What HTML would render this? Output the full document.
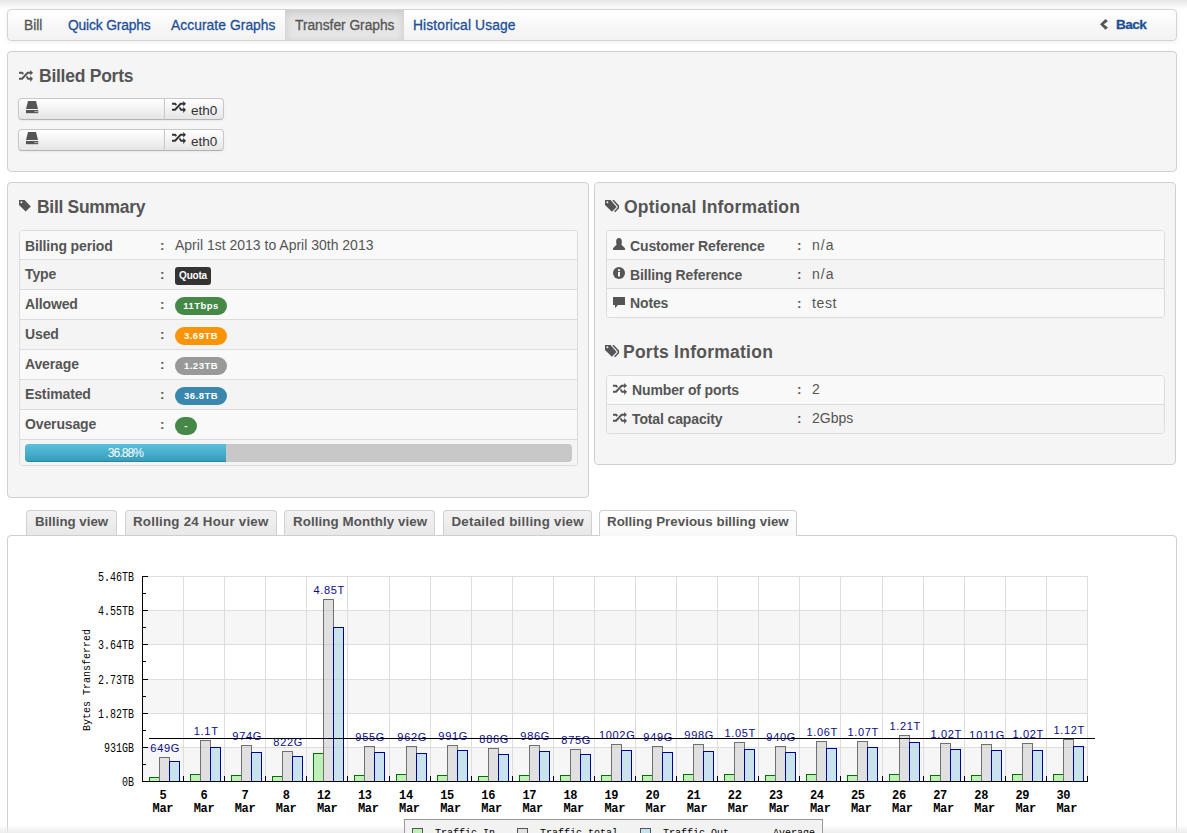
<!DOCTYPE html>
<html><head><meta charset="utf-8">
<style>
*{box-sizing:border-box;margin:0;padding:0}
html,body{width:1187px;height:833px;overflow:hidden;background:#fff}
body{position:relative;font-family:"Liberation Sans",sans-serif;color:#555}
.abs{position:absolute}
.topshade{left:0;top:0;width:1187px;height:9px;background:linear-gradient(#e6e6e6,#fff)}
.botshade{left:0;top:825px;width:1187px;height:8px;background:linear-gradient(rgba(238,238,238,0),#ececec)}
.navbar{left:7px;top:9px;width:1170px;height:32px;border:1px solid #d4d4d4;border-radius:4px;background:linear-gradient(#ffffff,#f2f2f2);box-shadow:0 1px 4px rgba(0,0,0,.065)}
.nav{position:absolute;top:0;height:30px;line-height:32px;font-size:13.8px;color:#1d4f96;white-space:nowrap;-webkit-text-stroke:0.3px}
.nav.active{background:#e5e5e5;box-shadow:inset 0 3px 8px rgba(0,0,0,.125);color:#555}
.well{background:#f5f5f5;border:1px solid #d0d0d0;border-radius:4px}
h3{position:absolute;font-size:17.5px;font-weight:bold;color:#555;white-space:nowrap;line-height:20px}
.icon{position:absolute}
.btn{position:absolute;height:22px;border:1px solid #c8c8c8;border-bottom-color:#b3b3b3;background:linear-gradient(#ffffff,#e6e6e6);box-shadow:inset 0 1px 0 rgba(255,255,255,.2),0 1px 2px rgba(0,0,0,.05)}
.tbl{position:absolute;border:1px solid #dcdcdc;border-radius:4px;overflow:hidden}
.row{position:absolute;left:0;width:100%;border-top:1px solid #dcdcdc}
.row.first{border-top:none}
.odd{background:#f9f9f9}
.even{background:#f4f4f4}
.lbl{position:absolute;margin-top:1px;font-weight:bold;font-size:14px;letter-spacing:-0.13px;color:#555;white-space:nowrap}
.colon{position:absolute;font-size:13.5px;font-weight:bold;color:#555;margin-top:1px}
.val{position:absolute;font-size:14px;color:#555;white-space:nowrap}
.badge{position:absolute;height:18px;border-radius:9px;color:#fff;font-weight:bold;font-size:9.5px;letter-spacing:0.5px;line-height:17px;text-align:center;white-space:nowrap}
.tab{position:absolute;top:510px;height:25px;border:1px solid #d0d0d0;border-bottom:none;border-radius:4px 4px 0 0;background:linear-gradient(#f2f2f2,#e8e8e8);font-weight:bold;font-size:13.3px;color:#555;line-height:22px;white-space:nowrap}
.tab.active{background:linear-gradient(#ffffff,#f8f8f8);height:26px;border-color:#cfcfcf}
.content{left:7px;top:535px;width:1170px;height:320px;border:1px solid #cfcfcf;border-radius:4px 4px 0 0;background:#fff}
</style></head><body>
<div class="abs topshade"></div>

<!-- navbar -->
<div class="abs navbar">
  <span class="nav" style="left:16px;color:#555">Bill</span>
  <span class="nav" style="left:60px;letter-spacing:-0.15px">Quick Graphs</span>
  <span class="nav" style="left:163px;letter-spacing:0.07px">Accurate Graphs</span>
  <span class="nav active" style="left:277px;width:119px;padding-left:10px;letter-spacing:-0.03px">Transfer Graphs</span>
  <span class="nav" style="left:405px;letter-spacing:0.14px">Historical Usage</span>
  <svg class="icon" style="left:1091px;top:8px" width="10" height="13" viewBox="0 0 10 13"><path d="M1 6.3L6.5 1L9 3.3L4.8 6.3L9 9.5L6.5 11.8Z" fill="#555"/></svg>
  <span class="nav" style="left:1108px;font-weight:bold;font-size:13.6px;letter-spacing:-0.6px;line-height:29px">Back</span>
</div>

<!-- Billed ports -->
<div class="abs well" style="left:7px;top:51px;width:1170px;height:121px"></div>
<svg class="icon" style="left:19px;top:70px" width="14" height="12" viewBox="0 0 14 12"><path d="M0 1.8H3.5L5.0 3.4L3.7 4.7L2.7 3.8H0Z M0 7.8H2.6L8.2 1.8H11.2V0L14 2.8L11.2 5.6V3.8H9.1L3.5 9.8H0Z M6.9 7.1L8.2 5.8L9.3 7.8H11.2V6L14 8.8L11.2 11.9V9.8H8.6Z" fill="#555"/></svg>
<h3 style="left:39px;top:66px;letter-spacing:-0.25px">Billed Ports</h3>

<div class="btn" style="left:18px;top:98px;width:147px;border-radius:4px 0 0 4px"></div>
<div class="btn" style="left:164px;top:98px;width:60px;border-radius:0 4px 4px 0"></div>
<div class="btn" style="left:18px;top:129px;width:147px;border-radius:4px 0 0 4px"></div>
<div class="btn" style="left:164px;top:129px;width:60px;border-radius:0 4px 4px 0"></div>
<!--HDD-->
<svg class="icon" style="left:26px;top:101px" width="13" height="13" viewBox="0 0 13 13"><path d="M2 0h8l2 8H0z" fill="#555"/><rect x="0" y="9" width="12.2" height="3.2" fill="#555"/><circle cx="9.2" cy="10.6" r="0.7" fill="#eee"/><circle cx="11" cy="10.6" r="0.7" fill="#eee"/></svg>
<svg class="icon" style="left:26px;top:132px" width="13" height="13" viewBox="0 0 13 13"><path d="M2 0h8l2 8H0z" fill="#555"/><rect x="0" y="9" width="12.2" height="3.2" fill="#555"/><circle cx="9.2" cy="10.6" r="0.7" fill="#eee"/><circle cx="11" cy="10.6" r="0.7" fill="#eee"/></svg>
<svg class="icon" style="left:172px;top:101px" width="14" height="12" viewBox="0 0 14 12"><path d="M0 1.8H3.5L5.0 3.4L3.7 4.7L2.7 3.8H0Z M0 7.8H2.6L8.2 1.8H11.2V0L14 2.8L11.2 5.6V3.8H9.1L3.5 9.8H0Z M6.9 7.1L8.2 5.8L9.3 7.8H11.2V6L14 8.8L11.2 11.9V9.8H8.6Z" fill="#333"/></svg>
<svg class="icon" style="left:172px;top:132px" width="14" height="12" viewBox="0 0 14 12"><path d="M0 1.8H3.5L5.0 3.4L3.7 4.7L2.7 3.8H0Z M0 7.8H2.6L8.2 1.8H11.2V0L14 2.8L11.2 5.6V3.8H9.1L3.5 9.8H0Z M6.9 7.1L8.2 5.8L9.3 7.8H11.2V6L14 8.8L11.2 11.9V9.8H8.6Z" fill="#333"/></svg>
<span class="abs" style="left:191px;top:103px;font-size:13.5px;line-height:16px;color:#333">eth0</span>
<span class="abs" style="left:191px;top:134px;font-size:13.5px;line-height:16px;color:#333">eth0</span>

<!-- Bill Summary -->
<div class="abs well" style="left:7px;top:182px;width:582px;height:316px"></div>
<svg class="icon" style="left:19px;top:200px" width="13" height="13" viewBox="0 0 13 13"><path d="M0 0.1H5.6L11.8 6.4L6.7 11.6L0 5.1Z" fill="#555"/><circle cx="2.4" cy="2.3" r="1" fill="#f5f5f5"/></svg>
<h3 style="left:37px;top:197px;letter-spacing:-0.3px">Bill Summary</h3>

<div class="tbl" style="left:19px;top:230px;width:559px;height:236px">
  <div class="row first odd" style="top:0;height:28px"></div>
  <div class="row even" style="top:28px;height:30px"></div>
  <div class="row odd" style="top:58px;height:30px"></div>
  <div class="row even" style="top:88px;height:30px"></div>
  <div class="row odd" style="top:118px;height:30px"></div>
  <div class="row even" style="top:148px;height:30px"></div>
  <div class="row odd" style="top:178px;height:30px"></div>
  <div class="row even" style="top:208px;height:26px"></div>
</div>
<span class="lbl" style="left:25px;top:237px">Billing period</span>
<span class="lbl" style="left:25px;top:265px">Type</span>
<span class="lbl" style="left:25px;top:295px">Allowed</span>
<span class="lbl" style="left:25px;top:325px">Used</span>
<span class="lbl" style="left:25px;top:355px">Average</span>
<span class="lbl" style="left:25px;top:385px">Estimated</span>
<span class="lbl" style="left:25px;top:415px">Overusage</span>
<span class="colon" style="left:160px;top:237px">:</span>
<span class="colon" style="left:160px;top:266px">:</span>
<span class="colon" style="left:160px;top:296px">:</span>
<span class="colon" style="left:160px;top:326px">:</span>
<span class="colon" style="left:160px;top:356px">:</span>
<span class="colon" style="left:160px;top:386px">:</span>
<span class="colon" style="left:160px;top:416px">:</span>
<span class="val" style="left:175px;top:237px">April 1st 2013 to April 30th 2013</span>
<span class="badge" style="left:175px;top:267px;width:36px;border-radius:3px;background:#333;font-size:10px;letter-spacing:-0.2px;line-height:18px">Quota</span>
<span class="badge" style="left:175px;top:297px;width:52px;background:#468847">11Tbps</span>
<span class="badge" style="left:175px;top:327px;width:52px;background:#f89406">3.69TB</span>
<span class="badge" style="left:175px;top:357px;width:52px;background:#999">1.23TB</span>
<span class="badge" style="left:175px;top:387px;width:52px;background:#3a87ad">36.8TB</span>
<span class="badge" style="left:175px;top:417px;width:22px;background:#468847">-</span>
<div class="abs" style="left:25px;top:444px;width:547px;height:18px;border-radius:4px;background:#c8c8c8;overflow:hidden">
  <div class="abs" style="left:0;top:0;width:201px;height:18px;background:linear-gradient(#5bc0de,#339bb9);box-shadow:inset 0 -1px 0 rgba(0,0,0,.15);color:#fff;font-size:12px;letter-spacing:-0.9px;line-height:19px;text-align:center">36.88%</div>
</div>

<!-- Optional information -->
<div class="abs well" style="left:594px;top:182px;width:582px;height:283px"></div>
<svg class="icon" style="left:605px;top:200px" width="15" height="13" viewBox="0 0 15 13"><path d="M0 0.1H5.6L11.6 6.9L6.9 11.8L0 5.1Z" fill="#555"/><circle cx="2.4" cy="2.3" r="1" fill="#f5f5f5"/><path d="M8 0.1L13.3 5.9V8L9.6 11.8" fill="none" stroke="#555" stroke-width="1.5"/></svg>
<h3 style="left:624px;top:197px;letter-spacing:0.2px">Optional Information</h3>
<div class="tbl" style="left:606px;top:230px;width:559px;height:88px">
  <div class="row first odd" style="top:0;height:28px"></div>
  <div class="row even" style="top:28px;height:29px"></div>
  <div class="row odd" style="top:57px;height:29px"></div>
</div>
<svg class="icon" style="left:613px;top:238px" width="12" height="12" viewBox="0 0 12 12"><path d="M3.2 3C3.2 1.2 4.4 0 6 0S8.8 1.2 8.8 3V5.2L8.3 6.6L12 10.3V12H0V10.3L3.7 6.6L3.2 5.2Z" fill="#555"/></svg>
<svg class="icon" style="left:613px;top:267px" width="12" height="12" viewBox="0 0 12 12"><circle cx="6" cy="6" r="6" fill="#555"/><rect x="5" y="5" width="2" height="4.5" fill="#f5f5f5"/><circle cx="6" cy="3.2" r="1.1" fill="#f5f5f5"/></svg>
<svg class="icon" style="left:613px;top:297px" width="12" height="12" viewBox="0 0 12 12"><path d="M0 0h12v8H5L2 11V8H0z" fill="#555"/></svg>
<span class="lbl" style="left:630px;top:237px">Customer Reference</span>
<span class="lbl" style="left:630px;top:266px">Billing Reference</span>
<span class="lbl" style="left:630px;top:294px">Notes</span>
<span class="colon" style="left:797px;top:237px">:</span>
<span class="colon" style="left:797px;top:266px">:</span>
<span class="colon" style="left:797px;top:295px">:</span>
<span class="val" style="left:812px;top:237px;letter-spacing:1px">n/a</span>
<span class="val" style="left:812px;top:266px;letter-spacing:1px">n/a</span>
<span class="val" style="left:812px;top:295px;letter-spacing:0.6px">test</span>

<svg class="icon" style="left:605px;top:345px" width="15" height="13" viewBox="0 0 15 13"><path d="M0 0.1H5.6L11.6 6.9L6.9 11.8L0 5.1Z" fill="#555"/><circle cx="2.4" cy="2.3" r="1" fill="#f5f5f5"/><path d="M8 0.1L13.3 5.9V8L9.6 11.8" fill="none" stroke="#555" stroke-width="1.5"/></svg>
<h3 style="left:623px;top:342px;letter-spacing:0.25px">Ports Information</h3>
<div class="tbl" style="left:606px;top:375px;width:559px;height:59px">
  <div class="row first odd" style="top:0;height:28px"></div>
  <div class="row even" style="top:28px;height:29px"></div>
</div>
<svg class="icon" style="left:613px;top:383px" width="14" height="12" viewBox="0 0 14 12"><path d="M0 1.8H3.5L5.0 3.4L3.7 4.7L2.7 3.8H0Z M0 7.8H2.6L8.2 1.8H11.2V0L14 2.8L11.2 5.6V3.8H9.1L3.5 9.8H0Z M6.9 7.1L8.2 5.8L9.3 7.8H11.2V6L14 8.8L11.2 11.9V9.8H8.6Z" fill="#555"/></svg>
<svg class="icon" style="left:613px;top:412px" width="14" height="12" viewBox="0 0 14 12"><path d="M0 1.8H3.5L5.0 3.4L3.7 4.7L2.7 3.8H0Z M0 7.8H2.6L8.2 1.8H11.2V0L14 2.8L11.2 5.6V3.8H9.1L3.5 9.8H0Z M6.9 7.1L8.2 5.8L9.3 7.8H11.2V6L14 8.8L11.2 11.9V9.8H8.6Z" fill="#555"/></svg>
<span class="lbl" style="left:632px;top:381px">Number of ports</span>
<span class="lbl" style="left:632px;top:410px">Total capacity</span>
<span class="colon" style="left:797px;top:381px">:</span>
<span class="colon" style="left:797px;top:410px">:</span>
<span class="val" style="left:812px;top:381px">2</span>
<span class="val" style="left:812px;top:410px">2Gbps</span>

<!-- tabs -->
<div class="abs content"></div>
<div class="tab" style="left:26px;width:91px;padding-left:8px">Billing view</div>
<div class="tab" style="left:125px;width:152px;padding-left:7px;letter-spacing:0.24px">Rolling 24 Hour view</div>
<div class="tab" style="left:284px;width:151px;padding-left:8px;letter-spacing:0.1px">Rolling Monthly view</div>
<div class="tab" style="left:443px;width:149px;padding-left:7.5px;letter-spacing:0.25px">Detailed billing view</div>
<div class="tab active" style="left:599px;width:198px;padding-left:7px;letter-spacing:0.05px">Rolling Previous billing view</div>

<svg width="1187" height="833" style="position:absolute;left:0;top:0" shape-rendering="crispEdges">
<rect x="142" y="576" width="945" height="34" fill="#ffffff"/>
<rect x="142" y="610" width="945" height="34" fill="#f6f6f6"/>
<rect x="142" y="644" width="945" height="35" fill="#ffffff"/>
<rect x="142" y="679" width="945" height="34" fill="#f6f6f6"/>
<rect x="142" y="713" width="945" height="34" fill="#ffffff"/>
<rect x="142" y="747" width="945" height="34" fill="#f6f6f6"/>
<rect x="142" y="576" width="946" height="1" fill="#dddddd"/>
<rect x="142" y="610" width="946" height="1" fill="#dddddd"/>
<rect x="142" y="644" width="946" height="1" fill="#dddddd"/>
<rect x="142" y="679" width="946" height="1" fill="#dddddd"/>
<rect x="142" y="713" width="946" height="1" fill="#dddddd"/>
<rect x="142" y="747" width="946" height="1" fill="#dddddd"/>
<rect x="183" y="576" width="1" height="205" fill="#dddddd"/>
<rect x="224" y="576" width="1" height="205" fill="#dddddd"/>
<rect x="265" y="576" width="1" height="205" fill="#dddddd"/>
<rect x="306" y="576" width="1" height="205" fill="#dddddd"/>
<rect x="347" y="576" width="1" height="205" fill="#dddddd"/>
<rect x="389" y="576" width="1" height="205" fill="#dddddd"/>
<rect x="430" y="576" width="1" height="205" fill="#dddddd"/>
<rect x="471" y="576" width="1" height="205" fill="#dddddd"/>
<rect x="512" y="576" width="1" height="205" fill="#dddddd"/>
<rect x="553" y="576" width="1" height="205" fill="#dddddd"/>
<rect x="594" y="576" width="1" height="205" fill="#dddddd"/>
<rect x="635" y="576" width="1" height="205" fill="#dddddd"/>
<rect x="676" y="576" width="1" height="205" fill="#dddddd"/>
<rect x="717" y="576" width="1" height="205" fill="#dddddd"/>
<rect x="758" y="576" width="1" height="205" fill="#dddddd"/>
<rect x="799" y="576" width="1" height="205" fill="#dddddd"/>
<rect x="840" y="576" width="1" height="205" fill="#dddddd"/>
<rect x="882" y="576" width="1" height="205" fill="#dddddd"/>
<rect x="923" y="576" width="1" height="205" fill="#dddddd"/>
<rect x="964" y="576" width="1" height="205" fill="#dddddd"/>
<rect x="1005" y="576" width="1" height="205" fill="#dddddd"/>
<rect x="1046" y="576" width="1" height="205" fill="#dddddd"/>
<rect x="1087" y="576" width="1" height="205" fill="#dddddd"/>
<rect x="149" y="777" width="11" height="4" fill="#007000"/>
<rect x="150" y="778" width="9" height="3" fill="#bff0b8"/>
<rect x="159" y="757" width="11" height="24" fill="#707070"/>
<rect x="160" y="758" width="9" height="23" fill="#e0e0e0"/>
<rect x="169" y="761" width="11" height="20" fill="#0000a0"/>
<rect x="170" y="762" width="9" height="19" fill="#c9e3ed"/>
<rect x="190" y="774" width="11" height="7" fill="#007000"/>
<rect x="191" y="775" width="9" height="6" fill="#bff0b8"/>
<rect x="200" y="740" width="11" height="41" fill="#707070"/>
<rect x="201" y="741" width="9" height="40" fill="#e0e0e0"/>
<rect x="210" y="747" width="11" height="34" fill="#0000a0"/>
<rect x="211" y="748" width="9" height="33" fill="#c9e3ed"/>
<rect x="231" y="775" width="11" height="6" fill="#007000"/>
<rect x="232" y="776" width="9" height="5" fill="#bff0b8"/>
<rect x="241" y="745" width="11" height="36" fill="#707070"/>
<rect x="242" y="746" width="9" height="35" fill="#e0e0e0"/>
<rect x="251" y="752" width="11" height="29" fill="#0000a0"/>
<rect x="252" y="753" width="9" height="28" fill="#c9e3ed"/>
<rect x="272" y="776" width="11" height="5" fill="#007000"/>
<rect x="273" y="777" width="9" height="4" fill="#bff0b8"/>
<rect x="282" y="751" width="11" height="30" fill="#707070"/>
<rect x="283" y="752" width="9" height="29" fill="#e0e0e0"/>
<rect x="292" y="756" width="11" height="25" fill="#0000a0"/>
<rect x="293" y="757" width="9" height="24" fill="#c9e3ed"/>
<rect x="313" y="753" width="11" height="28" fill="#007000"/>
<rect x="314" y="754" width="9" height="27" fill="#bff0b8"/>
<rect x="323" y="599" width="11" height="182" fill="#707070"/>
<rect x="324" y="600" width="9" height="181" fill="#e0e0e0"/>
<rect x="333" y="627" width="11" height="154" fill="#0000a0"/>
<rect x="334" y="628" width="9" height="153" fill="#c9e3ed"/>
<rect x="354" y="775" width="11" height="6" fill="#007000"/>
<rect x="355" y="776" width="9" height="5" fill="#bff0b8"/>
<rect x="364" y="746" width="11" height="35" fill="#707070"/>
<rect x="365" y="747" width="9" height="34" fill="#e0e0e0"/>
<rect x="374" y="752" width="11" height="29" fill="#0000a0"/>
<rect x="375" y="753" width="9" height="28" fill="#c9e3ed"/>
<rect x="396" y="774" width="11" height="7" fill="#007000"/>
<rect x="397" y="775" width="9" height="6" fill="#bff0b8"/>
<rect x="406" y="746" width="11" height="35" fill="#707070"/>
<rect x="407" y="747" width="9" height="34" fill="#e0e0e0"/>
<rect x="416" y="753" width="11" height="28" fill="#0000a0"/>
<rect x="417" y="754" width="9" height="27" fill="#c9e3ed"/>
<rect x="437" y="775" width="11" height="6" fill="#007000"/>
<rect x="438" y="776" width="9" height="5" fill="#bff0b8"/>
<rect x="447" y="745" width="11" height="36" fill="#707070"/>
<rect x="448" y="746" width="9" height="35" fill="#e0e0e0"/>
<rect x="457" y="750" width="11" height="31" fill="#0000a0"/>
<rect x="458" y="751" width="9" height="30" fill="#c9e3ed"/>
<rect x="478" y="776" width="11" height="5" fill="#007000"/>
<rect x="479" y="777" width="9" height="4" fill="#bff0b8"/>
<rect x="488" y="748" width="11" height="33" fill="#707070"/>
<rect x="489" y="749" width="9" height="32" fill="#e0e0e0"/>
<rect x="498" y="754" width="11" height="27" fill="#0000a0"/>
<rect x="499" y="755" width="9" height="26" fill="#c9e3ed"/>
<rect x="519" y="775" width="11" height="6" fill="#007000"/>
<rect x="520" y="776" width="9" height="5" fill="#bff0b8"/>
<rect x="529" y="745" width="11" height="36" fill="#707070"/>
<rect x="530" y="746" width="9" height="35" fill="#e0e0e0"/>
<rect x="539" y="751" width="11" height="30" fill="#0000a0"/>
<rect x="540" y="752" width="9" height="29" fill="#c9e3ed"/>
<rect x="560" y="775" width="11" height="6" fill="#007000"/>
<rect x="561" y="776" width="9" height="5" fill="#bff0b8"/>
<rect x="570" y="749" width="11" height="32" fill="#707070"/>
<rect x="571" y="750" width="9" height="31" fill="#e0e0e0"/>
<rect x="580" y="754" width="11" height="27" fill="#0000a0"/>
<rect x="581" y="755" width="9" height="26" fill="#c9e3ed"/>
<rect x="601" y="775" width="11" height="6" fill="#007000"/>
<rect x="602" y="776" width="9" height="5" fill="#bff0b8"/>
<rect x="611" y="744" width="11" height="37" fill="#707070"/>
<rect x="612" y="745" width="9" height="36" fill="#e0e0e0"/>
<rect x="621" y="750" width="11" height="31" fill="#0000a0"/>
<rect x="622" y="751" width="9" height="30" fill="#c9e3ed"/>
<rect x="642" y="775" width="11" height="6" fill="#007000"/>
<rect x="643" y="776" width="9" height="5" fill="#bff0b8"/>
<rect x="652" y="746" width="11" height="35" fill="#707070"/>
<rect x="653" y="747" width="9" height="34" fill="#e0e0e0"/>
<rect x="662" y="752" width="11" height="29" fill="#0000a0"/>
<rect x="663" y="753" width="9" height="28" fill="#c9e3ed"/>
<rect x="683" y="774" width="11" height="7" fill="#007000"/>
<rect x="684" y="775" width="9" height="6" fill="#bff0b8"/>
<rect x="693" y="744" width="11" height="37" fill="#707070"/>
<rect x="694" y="745" width="9" height="36" fill="#e0e0e0"/>
<rect x="703" y="751" width="11" height="30" fill="#0000a0"/>
<rect x="704" y="752" width="9" height="29" fill="#c9e3ed"/>
<rect x="724" y="774" width="11" height="7" fill="#007000"/>
<rect x="725" y="775" width="9" height="6" fill="#bff0b8"/>
<rect x="734" y="742" width="11" height="39" fill="#707070"/>
<rect x="735" y="743" width="9" height="38" fill="#e0e0e0"/>
<rect x="744" y="749" width="11" height="32" fill="#0000a0"/>
<rect x="745" y="750" width="9" height="31" fill="#c9e3ed"/>
<rect x="765" y="775" width="11" height="6" fill="#007000"/>
<rect x="766" y="776" width="9" height="5" fill="#bff0b8"/>
<rect x="775" y="746" width="11" height="35" fill="#707070"/>
<rect x="776" y="747" width="9" height="34" fill="#e0e0e0"/>
<rect x="785" y="752" width="11" height="29" fill="#0000a0"/>
<rect x="786" y="753" width="9" height="28" fill="#c9e3ed"/>
<rect x="806" y="774" width="11" height="7" fill="#007000"/>
<rect x="807" y="775" width="9" height="6" fill="#bff0b8"/>
<rect x="816" y="741" width="11" height="40" fill="#707070"/>
<rect x="817" y="742" width="9" height="39" fill="#e0e0e0"/>
<rect x="826" y="748" width="11" height="33" fill="#0000a0"/>
<rect x="827" y="749" width="9" height="32" fill="#c9e3ed"/>
<rect x="847" y="775" width="11" height="6" fill="#007000"/>
<rect x="848" y="776" width="9" height="5" fill="#bff0b8"/>
<rect x="857" y="741" width="11" height="40" fill="#707070"/>
<rect x="858" y="742" width="9" height="39" fill="#e0e0e0"/>
<rect x="867" y="747" width="11" height="34" fill="#0000a0"/>
<rect x="868" y="748" width="9" height="33" fill="#c9e3ed"/>
<rect x="889" y="774" width="11" height="7" fill="#007000"/>
<rect x="890" y="775" width="9" height="6" fill="#bff0b8"/>
<rect x="899" y="735" width="11" height="46" fill="#707070"/>
<rect x="900" y="736" width="9" height="45" fill="#e0e0e0"/>
<rect x="909" y="742" width="11" height="39" fill="#0000a0"/>
<rect x="910" y="743" width="9" height="38" fill="#c9e3ed"/>
<rect x="930" y="775" width="11" height="6" fill="#007000"/>
<rect x="931" y="776" width="9" height="5" fill="#bff0b8"/>
<rect x="940" y="743" width="11" height="38" fill="#707070"/>
<rect x="941" y="744" width="9" height="37" fill="#e0e0e0"/>
<rect x="950" y="749" width="11" height="32" fill="#0000a0"/>
<rect x="951" y="750" width="9" height="31" fill="#c9e3ed"/>
<rect x="971" y="775" width="11" height="6" fill="#007000"/>
<rect x="972" y="776" width="9" height="5" fill="#bff0b8"/>
<rect x="981" y="744" width="11" height="37" fill="#707070"/>
<rect x="982" y="745" width="9" height="36" fill="#e0e0e0"/>
<rect x="991" y="750" width="11" height="31" fill="#0000a0"/>
<rect x="992" y="751" width="9" height="30" fill="#c9e3ed"/>
<rect x="1012" y="774" width="11" height="7" fill="#007000"/>
<rect x="1013" y="775" width="9" height="6" fill="#bff0b8"/>
<rect x="1022" y="743" width="11" height="38" fill="#707070"/>
<rect x="1023" y="744" width="9" height="37" fill="#e0e0e0"/>
<rect x="1032" y="750" width="11" height="31" fill="#0000a0"/>
<rect x="1033" y="751" width="9" height="30" fill="#c9e3ed"/>
<rect x="1053" y="774" width="11" height="7" fill="#007000"/>
<rect x="1054" y="775" width="9" height="6" fill="#bff0b8"/>
<rect x="1063" y="739" width="11" height="42" fill="#707070"/>
<rect x="1064" y="740" width="9" height="41" fill="#e0e0e0"/>
<rect x="1073" y="746" width="11" height="35" fill="#0000a0"/>
<rect x="1074" y="747" width="9" height="34" fill="#c9e3ed"/>
<rect x="323" y="610" width="11" height="1" fill="#000" fill-opacity="0.07"/>
<rect x="323" y="644" width="11" height="1" fill="#000" fill-opacity="0.07"/>
<rect x="333" y="644" width="11" height="1" fill="#000" fill-opacity="0.07"/>
<rect x="323" y="679" width="11" height="1" fill="#000" fill-opacity="0.07"/>
<rect x="333" y="679" width="11" height="1" fill="#000" fill-opacity="0.07"/>
<rect x="323" y="713" width="11" height="1" fill="#000" fill-opacity="0.07"/>
<rect x="333" y="713" width="11" height="1" fill="#000" fill-opacity="0.07"/>
<rect x="200" y="747" width="11" height="1" fill="#000" fill-opacity="0.07"/>
<rect x="241" y="747" width="11" height="1" fill="#000" fill-opacity="0.07"/>
<rect x="323" y="747" width="11" height="1" fill="#000" fill-opacity="0.07"/>
<rect x="333" y="747" width="11" height="1" fill="#000" fill-opacity="0.07"/>
<rect x="364" y="747" width="11" height="1" fill="#000" fill-opacity="0.07"/>
<rect x="406" y="747" width="11" height="1" fill="#000" fill-opacity="0.07"/>
<rect x="447" y="747" width="11" height="1" fill="#000" fill-opacity="0.07"/>
<rect x="529" y="747" width="11" height="1" fill="#000" fill-opacity="0.07"/>
<rect x="611" y="747" width="11" height="1" fill="#000" fill-opacity="0.07"/>
<rect x="652" y="747" width="11" height="1" fill="#000" fill-opacity="0.07"/>
<rect x="693" y="747" width="11" height="1" fill="#000" fill-opacity="0.07"/>
<rect x="734" y="747" width="11" height="1" fill="#000" fill-opacity="0.07"/>
<rect x="775" y="747" width="11" height="1" fill="#000" fill-opacity="0.07"/>
<rect x="816" y="747" width="11" height="1" fill="#000" fill-opacity="0.07"/>
<rect x="857" y="747" width="11" height="1" fill="#000" fill-opacity="0.07"/>
<rect x="899" y="747" width="11" height="1" fill="#000" fill-opacity="0.07"/>
<rect x="909" y="747" width="11" height="1" fill="#000" fill-opacity="0.07"/>
<rect x="940" y="747" width="11" height="1" fill="#000" fill-opacity="0.07"/>
<rect x="981" y="747" width="11" height="1" fill="#000" fill-opacity="0.07"/>
<rect x="1022" y="747" width="11" height="1" fill="#000" fill-opacity="0.07"/>
<rect x="1063" y="747" width="11" height="1" fill="#000" fill-opacity="0.07"/>
<rect x="1073" y="747" width="11" height="1" fill="#000" fill-opacity="0.07"/>
<rect x="142" y="576" width="1" height="206" fill="#000"/>
<rect x="142" y="781" width="946" height="1" fill="#000"/>
<rect x="142" y="576" width="6" height="1" fill="#000"/>
<rect x="142" y="593" width="4" height="1" fill="#000"/>
<rect x="142" y="610" width="6" height="1" fill="#000"/>
<rect x="142" y="627" width="4" height="1" fill="#000"/>
<rect x="142" y="644" width="6" height="1" fill="#000"/>
<rect x="142" y="661" width="4" height="1" fill="#000"/>
<rect x="142" y="679" width="6" height="1" fill="#000"/>
<rect x="142" y="696" width="4" height="1" fill="#000"/>
<rect x="142" y="713" width="6" height="1" fill="#000"/>
<rect x="142" y="730" width="4" height="1" fill="#000"/>
<rect x="142" y="747" width="6" height="1" fill="#000"/>
<rect x="142" y="764" width="4" height="1" fill="#000"/>
<rect x="142" y="781" width="6" height="1" fill="#000"/>
<rect x="183" y="776" width="1" height="5" fill="#000"/>
<rect x="224" y="776" width="1" height="5" fill="#000"/>
<rect x="265" y="776" width="1" height="5" fill="#000"/>
<rect x="306" y="776" width="1" height="5" fill="#000"/>
<rect x="347" y="776" width="1" height="5" fill="#000"/>
<rect x="389" y="776" width="1" height="5" fill="#000"/>
<rect x="430" y="776" width="1" height="5" fill="#000"/>
<rect x="471" y="776" width="1" height="5" fill="#000"/>
<rect x="512" y="776" width="1" height="5" fill="#000"/>
<rect x="553" y="776" width="1" height="5" fill="#000"/>
<rect x="594" y="776" width="1" height="5" fill="#000"/>
<rect x="635" y="776" width="1" height="5" fill="#000"/>
<rect x="676" y="776" width="1" height="5" fill="#000"/>
<rect x="717" y="776" width="1" height="5" fill="#000"/>
<rect x="758" y="776" width="1" height="5" fill="#000"/>
<rect x="799" y="776" width="1" height="5" fill="#000"/>
<rect x="840" y="776" width="1" height="5" fill="#000"/>
<rect x="882" y="776" width="1" height="5" fill="#000"/>
<rect x="923" y="776" width="1" height="5" fill="#000"/>
<rect x="964" y="776" width="1" height="5" fill="#000"/>
<rect x="1005" y="776" width="1" height="5" fill="#000"/>
<rect x="1046" y="776" width="1" height="5" fill="#000"/>
<rect x="1087" y="776" width="1" height="5" fill="#000"/>
</svg>
<svg width="1187" height="833" style="position:absolute;left:0;top:0">
<text x="134" y="581" text-anchor="end" font-family="Liberation Mono" font-size="10" transform="translate(0 581) scale(1 1.2) translate(0 -581)" fill="#000">5.46TB</text>
<text x="134" y="615" text-anchor="end" font-family="Liberation Mono" font-size="10" transform="translate(0 615) scale(1 1.2) translate(0 -615)" fill="#000">4.55TB</text>
<text x="134" y="649" text-anchor="end" font-family="Liberation Mono" font-size="10" transform="translate(0 649) scale(1 1.2) translate(0 -649)" fill="#000">3.64TB</text>
<text x="134" y="684" text-anchor="end" font-family="Liberation Mono" font-size="10" transform="translate(0 684) scale(1 1.2) translate(0 -684)" fill="#000">2.73TB</text>
<text x="134" y="718" text-anchor="end" font-family="Liberation Mono" font-size="10" transform="translate(0 718) scale(1 1.2) translate(0 -718)" fill="#000">1.82TB</text>
<text x="134" y="752" text-anchor="end" font-family="Liberation Mono" font-size="10" transform="translate(0 752) scale(1 1.2) translate(0 -752)" fill="#000">931GB</text>
<text x="134" y="786" text-anchor="end" font-family="Liberation Mono" font-size="10" transform="translate(0 786) scale(1 1.2) translate(0 -786)" fill="#000">0B</text>
<text transform="translate(90 680) rotate(-90)" text-anchor="middle" font-family="Liberation Mono" font-size="10" fill="#000">Bytes Transferred</text>
<text x="165.2" y="751.7" text-anchor="middle" font-family="Liberation Sans" font-size="11" letter-spacing="0.7" fill="#0a0a8a">649G</text>
<text x="159.4" y="799" font-family="Liberation Mono" font-weight="bold" font-size="12" letter-spacing="-0.35" fill="#000">5</text>
<text x="152.6" y="812" font-family="Liberation Mono" font-weight="bold" font-size="12" letter-spacing="-0.35" fill="#000">Mar</text>
<text x="206.2" y="734.7" text-anchor="middle" font-family="Liberation Sans" font-size="11" letter-spacing="0.7" fill="#0a0a8a">1.1T</text>
<text x="200.5" y="799" font-family="Liberation Mono" font-weight="bold" font-size="12" letter-spacing="-0.35" fill="#000">6</text>
<text x="193.7" y="812" font-family="Liberation Mono" font-weight="bold" font-size="12" letter-spacing="-0.35" fill="#000">Mar</text>
<text x="247.2" y="739.9" text-anchor="middle" font-family="Liberation Sans" font-size="11" letter-spacing="0.7" fill="#0a0a8a">974G</text>
<text x="241.6" y="799" font-family="Liberation Mono" font-weight="bold" font-size="12" letter-spacing="-0.35" fill="#000">7</text>
<text x="234.7" y="812" font-family="Liberation Mono" font-weight="bold" font-size="12" letter-spacing="-0.35" fill="#000">Mar</text>
<text x="288.2" y="745.9" text-anchor="middle" font-family="Liberation Sans" font-size="11" letter-spacing="0.7" fill="#0a0a8a">822G</text>
<text x="282.7" y="799" font-family="Liberation Mono" font-weight="bold" font-size="12" letter-spacing="-0.35" fill="#000">8</text>
<text x="275.8" y="812" font-family="Liberation Mono" font-weight="bold" font-size="12" letter-spacing="-0.35" fill="#000">Mar</text>
<text x="329.2" y="594.0" text-anchor="middle" font-family="Liberation Sans" font-size="11" letter-spacing="0.7" fill="#0a0a8a">4.85T</text>
<text x="316.9" y="799" font-family="Liberation Mono" font-weight="bold" font-size="12" letter-spacing="-0.35" fill="#000">12</text>
<text x="316.9" y="812" font-family="Liberation Mono" font-weight="bold" font-size="12" letter-spacing="-0.35" fill="#000">Mar</text>
<text x="370.2" y="740.8" text-anchor="middle" font-family="Liberation Sans" font-size="11" letter-spacing="0.7" fill="#0a0a8a">955G</text>
<text x="358.0" y="799" font-family="Liberation Mono" font-weight="bold" font-size="12" letter-spacing="-0.35" fill="#000">13</text>
<text x="358.0" y="812" font-family="Liberation Mono" font-weight="bold" font-size="12" letter-spacing="-0.35" fill="#000">Mar</text>
<text x="412.2" y="740.8" text-anchor="middle" font-family="Liberation Sans" font-size="11" letter-spacing="0.7" fill="#0a0a8a">962G</text>
<text x="399.1" y="799" font-family="Liberation Mono" font-weight="bold" font-size="12" letter-spacing="-0.35" fill="#000">14</text>
<text x="399.1" y="812" font-family="Liberation Mono" font-weight="bold" font-size="12" letter-spacing="-0.35" fill="#000">Mar</text>
<text x="453.2" y="739.9" text-anchor="middle" font-family="Liberation Sans" font-size="11" letter-spacing="0.7" fill="#0a0a8a">991G</text>
<text x="440.2" y="799" font-family="Liberation Mono" font-weight="bold" font-size="12" letter-spacing="-0.35" fill="#000">15</text>
<text x="440.2" y="812" font-family="Liberation Mono" font-weight="bold" font-size="12" letter-spacing="-0.35" fill="#000">Mar</text>
<text x="494.2" y="742.9" text-anchor="middle" font-family="Liberation Sans" font-size="11" letter-spacing="0.7" fill="#0a0a8a">886G</text>
<text x="481.3" y="799" font-family="Liberation Mono" font-weight="bold" font-size="12" letter-spacing="-0.35" fill="#000">16</text>
<text x="481.3" y="812" font-family="Liberation Mono" font-weight="bold" font-size="12" letter-spacing="-0.35" fill="#000">Mar</text>
<text x="535.2" y="739.9" text-anchor="middle" font-family="Liberation Sans" font-size="11" letter-spacing="0.7" fill="#0a0a8a">986G</text>
<text x="522.4" y="799" font-family="Liberation Mono" font-weight="bold" font-size="12" letter-spacing="-0.35" fill="#000">17</text>
<text x="522.4" y="812" font-family="Liberation Mono" font-weight="bold" font-size="12" letter-spacing="-0.35" fill="#000">Mar</text>
<text x="576.2" y="743.8" text-anchor="middle" font-family="Liberation Sans" font-size="11" letter-spacing="0.7" fill="#0a0a8a">875G</text>
<text x="563.4" y="799" font-family="Liberation Mono" font-weight="bold" font-size="12" letter-spacing="-0.35" fill="#000">18</text>
<text x="563.4" y="812" font-family="Liberation Mono" font-weight="bold" font-size="12" letter-spacing="-0.35" fill="#000">Mar</text>
<text x="617.2" y="738.9" text-anchor="middle" font-family="Liberation Sans" font-size="11" letter-spacing="0.7" fill="#0a0a8a">1002G</text>
<text x="604.5" y="799" font-family="Liberation Mono" font-weight="bold" font-size="12" letter-spacing="-0.35" fill="#000">19</text>
<text x="604.5" y="812" font-family="Liberation Mono" font-weight="bold" font-size="12" letter-spacing="-0.35" fill="#000">Mar</text>
<text x="658.2" y="740.8" text-anchor="middle" font-family="Liberation Sans" font-size="11" letter-spacing="0.7" fill="#0a0a8a">949G</text>
<text x="645.6" y="799" font-family="Liberation Mono" font-weight="bold" font-size="12" letter-spacing="-0.35" fill="#000">20</text>
<text x="645.6" y="812" font-family="Liberation Mono" font-weight="bold" font-size="12" letter-spacing="-0.35" fill="#000">Mar</text>
<text x="699.2" y="738.9" text-anchor="middle" font-family="Liberation Sans" font-size="11" letter-spacing="0.7" fill="#0a0a8a">998G</text>
<text x="686.7" y="799" font-family="Liberation Mono" font-weight="bold" font-size="12" letter-spacing="-0.35" fill="#000">21</text>
<text x="686.7" y="812" font-family="Liberation Mono" font-weight="bold" font-size="12" letter-spacing="-0.35" fill="#000">Mar</text>
<text x="740.2" y="736.8" text-anchor="middle" font-family="Liberation Sans" font-size="11" letter-spacing="0.7" fill="#0a0a8a">1.05T</text>
<text x="727.8" y="799" font-family="Liberation Mono" font-weight="bold" font-size="12" letter-spacing="-0.35" fill="#000">22</text>
<text x="727.8" y="812" font-family="Liberation Mono" font-weight="bold" font-size="12" letter-spacing="-0.35" fill="#000">Mar</text>
<text x="781.2" y="740.8" text-anchor="middle" font-family="Liberation Sans" font-size="11" letter-spacing="0.7" fill="#0a0a8a">940G</text>
<text x="768.9" y="799" font-family="Liberation Mono" font-weight="bold" font-size="12" letter-spacing="-0.35" fill="#000">23</text>
<text x="768.9" y="812" font-family="Liberation Mono" font-weight="bold" font-size="12" letter-spacing="-0.35" fill="#000">Mar</text>
<text x="822.2" y="735.8" text-anchor="middle" font-family="Liberation Sans" font-size="11" letter-spacing="0.7" fill="#0a0a8a">1.06T</text>
<text x="810.0" y="799" font-family="Liberation Mono" font-weight="bold" font-size="12" letter-spacing="-0.35" fill="#000">24</text>
<text x="810.0" y="812" font-family="Liberation Mono" font-weight="bold" font-size="12" letter-spacing="-0.35" fill="#000">Mar</text>
<text x="863.2" y="735.8" text-anchor="middle" font-family="Liberation Sans" font-size="11" letter-spacing="0.7" fill="#0a0a8a">1.07T</text>
<text x="851.0" y="799" font-family="Liberation Mono" font-weight="bold" font-size="12" letter-spacing="-0.35" fill="#000">25</text>
<text x="851.0" y="812" font-family="Liberation Mono" font-weight="bold" font-size="12" letter-spacing="-0.35" fill="#000">Mar</text>
<text x="905.2" y="729.9" text-anchor="middle" font-family="Liberation Sans" font-size="11" letter-spacing="0.7" fill="#0a0a8a">1.21T</text>
<text x="892.1" y="799" font-family="Liberation Mono" font-weight="bold" font-size="12" letter-spacing="-0.35" fill="#000">26</text>
<text x="892.1" y="812" font-family="Liberation Mono" font-weight="bold" font-size="12" letter-spacing="-0.35" fill="#000">Mar</text>
<text x="946.2" y="737.9" text-anchor="middle" font-family="Liberation Sans" font-size="11" letter-spacing="0.7" fill="#0a0a8a">1.02T</text>
<text x="933.2" y="799" font-family="Liberation Mono" font-weight="bold" font-size="12" letter-spacing="-0.35" fill="#000">27</text>
<text x="933.2" y="812" font-family="Liberation Mono" font-weight="bold" font-size="12" letter-spacing="-0.35" fill="#000">Mar</text>
<text x="987.2" y="739.0" text-anchor="middle" font-family="Liberation Sans" font-size="11" letter-spacing="0.7" fill="#0a0a8a">1011G</text>
<text x="974.3" y="799" font-family="Liberation Mono" font-weight="bold" font-size="12" letter-spacing="-0.35" fill="#000">28</text>
<text x="974.3" y="812" font-family="Liberation Mono" font-weight="bold" font-size="12" letter-spacing="-0.35" fill="#000">Mar</text>
<text x="1028.2" y="737.9" text-anchor="middle" font-family="Liberation Sans" font-size="11" letter-spacing="0.7" fill="#0a0a8a">1.02T</text>
<text x="1015.4" y="799" font-family="Liberation Mono" font-weight="bold" font-size="12" letter-spacing="-0.35" fill="#000">29</text>
<text x="1015.4" y="812" font-family="Liberation Mono" font-weight="bold" font-size="12" letter-spacing="-0.35" fill="#000">Mar</text>
<text x="1069.2" y="733.9" text-anchor="middle" font-family="Liberation Sans" font-size="11" letter-spacing="0.7" fill="#0a0a8a">1.12T</text>
<text x="1056.5" y="799" font-family="Liberation Mono" font-weight="bold" font-size="12" letter-spacing="-0.35" fill="#000">30</text>
<text x="1056.5" y="812" font-family="Liberation Mono" font-weight="bold" font-size="12" letter-spacing="-0.35" fill="#000">Mar</text>
</svg>
<svg width="1187" height="833" style="position:absolute;left:0;top:0" shape-rendering="crispEdges"><rect x="149" y="738" width="946" height="1" fill="#000"/></svg>

<div class="abs botshade"></div>
<!-- legend -->
<div class="abs" style="left:404px;top:819px;width:419px;height:30px;border:1px solid #999;background:#f2f2f2;font-family:'Liberation Mono',monospace;font-size:10px;color:#000">
  <div class="abs" style="left:7px;top:8px;width:11px;height:11px;border:1px solid #555;background:#bff0b8"></div>
  <span class="abs" style="left:30px;top:8px">Traffic In</span>
  <div class="abs" style="left:112px;top:8px;width:11px;height:11px;border:1px solid #555;background:#e0e0e0"></div>
  <span class="abs" style="left:135px;top:8px">Traffic total</span>
  <div class="abs" style="left:235px;top:8px;width:11px;height:11px;border:1px solid #555;background:#c9e3ed"></div>
  <span class="abs" style="left:258px;top:8px">Traffic Out</span>
  <span class="abs" style="left:368px;top:8px">Average</span>
</div>

</body></html>
